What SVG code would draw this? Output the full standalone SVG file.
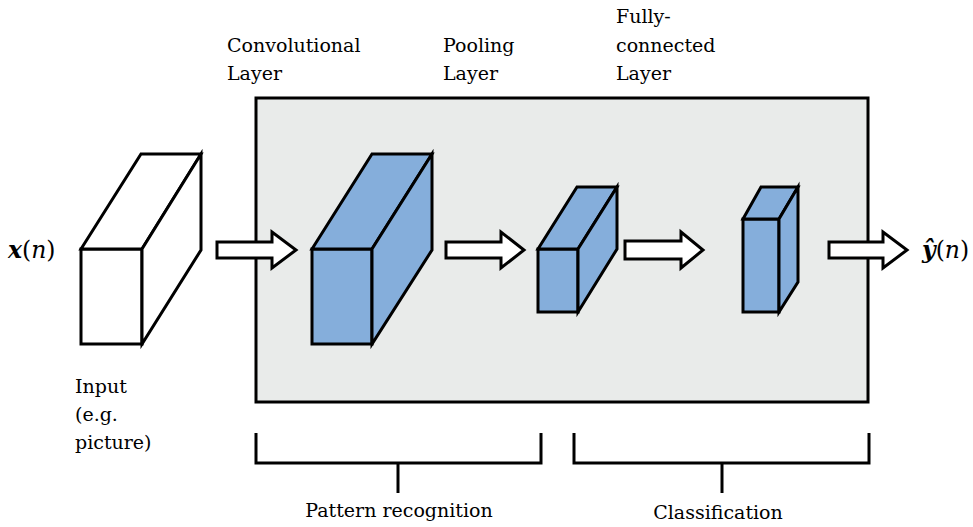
<svg xmlns="http://www.w3.org/2000/svg" width="973" height="527" viewBox="0 0 973 527">
<style>
.t{font-family:'DejaVu Serif',serif;font-size:19px;fill:#000}
.m{font-family:'DejaVu Serif',serif;font-size:23.5px;fill:#000}
.box{stroke:#000;stroke-width:3;stroke-linejoin:miter}
.w{fill:#fff}
.b{fill:#85aedb}
.arr{fill:#fff;stroke:#000;stroke-width:3;stroke-linejoin:miter}
.br{fill:none;stroke:#000;stroke-width:3}
</style>
<rect id="panel" x="256" y="98" width="612" height="304" fill="#e9ebea" stroke="#000" stroke-width="3"/>
<g id="input">
<polygon class="box w" points="81,249 142,249 142,344 81,344"/>
<polygon class="box w" points="81,249 141,154 201,154 142,249"/>
<polygon class="box w" points="142,249 201,154 201,250 142,344"/>
</g>
<g id="conv">
<polygon class="box b" points="312,249 372,249 372,344 312,344"/>
<polygon class="box b" points="312,249 372,154 432,154 372,249"/>
<polygon class="box b" points="372,249 432,154 432,250 372,344"/>
</g>
<g id="pool">
<polygon class="box b" points="538,249 578,249 578,312 538,312"/>
<polygon class="box b" points="538,249 577,187 617,187 578,249"/>
<polygon class="box b" points="578,249 617,187 617,249 578,312"/>
</g>
<g id="fc">
<polygon class="box b" points="743,219 779,219 779,312 743,312"/>
<polygon class="box b" points="743,219 761,187 798,187 779,219"/>
<polygon class="box b" points="779,219 798,187 798,282 779,312"/>
</g>
<g id="connectors">
<polygon class="arr" points="217,242 272,242 272,232 296,250 272,268 272,258 217,258"/>
<polygon class="arr" points="446,242 501,242 501,232 524,250 501,268 501,258 446,258"/>
<polygon class="arr" points="625,241 681,241 681,232 703,250 681,268 681,259 625,259"/>
<polygon class="arr" points="829,242 883,242 883,232 907,250 883,268 883,258 829,258"/>
<polyline class="br" points="256,433 256,463 541,463 541,433"/>
<line class="br" x1="398" y1="463" x2="398" y2="493"/>
<polyline class="br" points="574,433 574,463 869,463 869,433"/>
<line class="br" x1="722" y1="463" x2="722" y2="493"/>
</g>
<g id="labels">
<text class="m" x="8" y="258"><tspan font-weight="bold" font-style="italic">x</tspan>(<tspan font-style="italic">n</tspan>)</text>
<text class="m" x="922" y="258"><tspan font-weight="bold" font-style="italic">ŷ</tspan>(<tspan font-style="italic">n</tspan>)</text>
<text class="t" x="227" y="52">Convolutional</text>
<text class="t" x="227" y="80">Layer</text>
<text class="t" x="443" y="52">Pooling</text>
<text class="t" x="443" y="80">Layer</text>
<text class="t" x="616" y="23">Fully-</text>
<text class="t" x="616" y="52">connected</text>
<text class="t" x="616" y="80">Layer</text>
<text class="t" x="75" y="393">Input</text>
<text class="t" x="75" y="421">(e.g.</text>
<text class="t" x="75" y="449">picture)</text>
<text class="t" x="399" y="517" text-anchor="middle">Pattern recognition</text>
<text class="t" x="718" y="519" text-anchor="middle">Classification</text>
</g>
</svg>
